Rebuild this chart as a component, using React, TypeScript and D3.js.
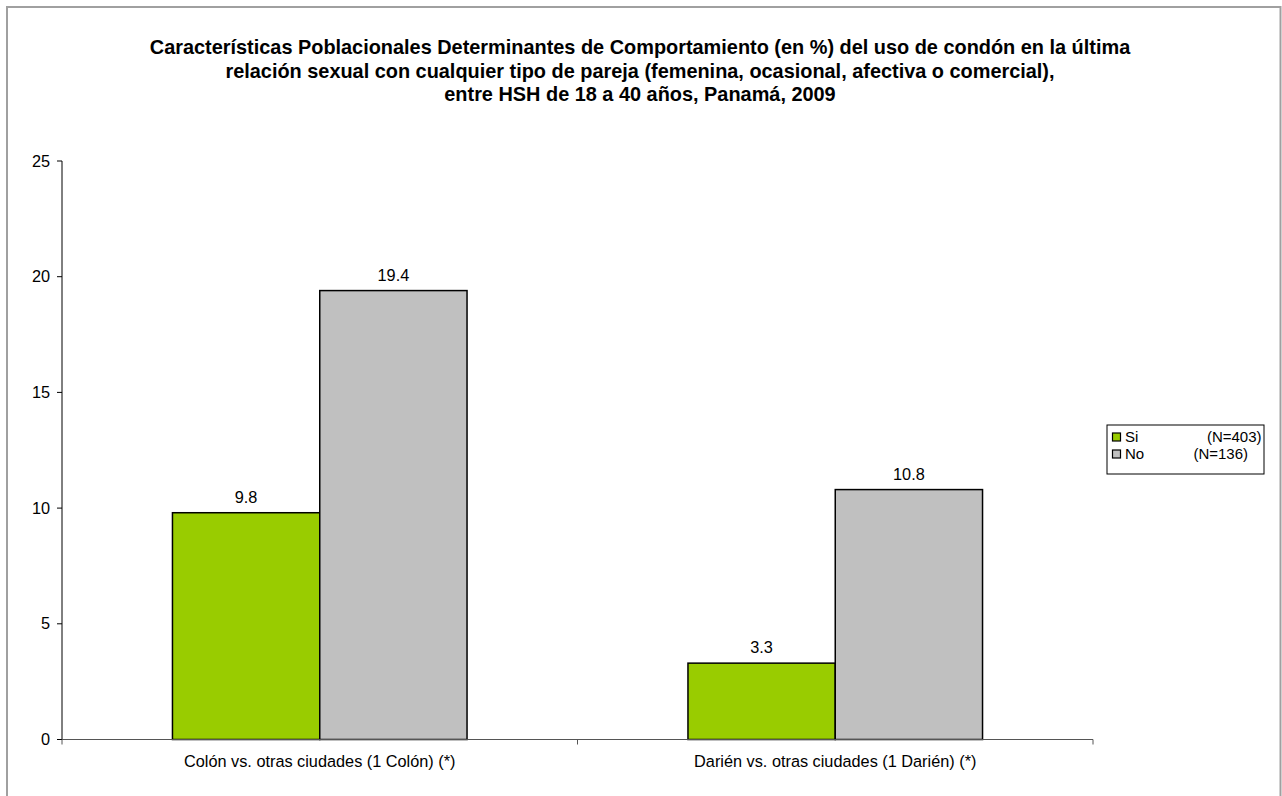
import React from "react";
import * as d3 from "d3";

const categories = ["Colón vs. otras ciudades (1 Colón) (*)", "Darién vs. otras ciudades (1 Darién) (*)"];
const seriesNames = ["Si", "No"];
const seriesN = ["(N=403)", "(N=136)"];
const siValues = [9.8, 3.3];
const noValues = [19.4, 10.8];
const yTicks = [0, 5, 10, 15, 20, 25];
const titleLines = [
  "Características Poblacionales Determinantes de Comportamiento (en %) del uso de condón en la última",
  "relación sexual con cualquier tipo de pareja (femenina, ocasional, afectiva o comercial),",
  "entre HSH de 18 a 40 años, Panamá, 2009",
];

const colors = ["#99cc00", "#c0c0c0"];
const FONT = "'Liberation Sans', Arial, sans-serif";

export default function App() {
  const W = 1282, H = 796;
  const left = 62, right = 1093, top = 161, bottom = 739.5;
  const x0 = d3.scaleBand<string>().domain(categories).range([left, right]).paddingInner(0).paddingOuter(0);
  const y = d3.scaleLinear().domain([0, 25]).range([bottom, top]);
  const barW = x0.bandwidth() / 3.5;
  const series = [siValues, noValues];
  const legendNEnd = [1261.5, 1248];
  const FS = 16.3;
  const LFS = 15;
  const rowGap = 17;

  return (
    <svg width={W} height={H} style={{ position: "absolute", left: 0, top: 0, background: "#fff" }} fontFamily={FONT}>
      <rect x={7} y={7} width={1273.5} height={H + 20} fill="#fff" stroke="#a0a0a0" strokeWidth={2} />
      {titleLines.map((t, i) => (
        <text key={i} x={640} y={54 + i * 23.5} textAnchor="middle" fontSize={19.9} fontWeight="bold" fill="#000">{t}</text>
      ))}
      {/* y axis */}
      <line x1={left} x2={left} y1={top} y2={bottom} stroke="#000" strokeWidth={1} />
      {yTicks.map((t) => (
        <g key={t}>
          <line x1={left - 5} x2={left} y1={y(t)} y2={y(t)} stroke="#000" />
          <text x={50} y={y(t) + 5.5} textAnchor="end" fontSize={FS} fill="#000">{t}</text>
        </g>
      ))}
      {/* bars */}
      {categories.map((c, ci) => {
        const cx = (x0(c) as number) + x0.bandwidth() / 2;
        return (
          <g key={c}>
            {series.map((vals, si) => {
              const bx = cx - barW + si * barW;
              return (
                <g key={si}>
                  <rect x={bx} y={y(vals[ci])} width={barW} height={bottom - y(vals[ci])} fill={colors[si]} stroke="#000" strokeWidth={1.5} />
                  <text x={bx + barW / 2} y={y(vals[ci]) - 10} textAnchor="middle" fontSize={FS} fill="#000">{vals[ci].toFixed(1)}</text>
                </g>
              );
            })}
            <text x={cx} y={767} textAnchor="middle" fontSize={FS} fill="#000">{c}</text>
          </g>
        );
      })}
      {/* x axis */}
      <line x1={left} x2={right} y1={bottom} y2={bottom} stroke="#555" strokeWidth={1.2} />
      {[left, (left + right) / 2, right].map((tx, i) => (
        <line key={i} x1={tx} x2={tx} y1={bottom} y2={bottom + 5} stroke="#555" />
      ))}
      {/* legend */}
      <rect x={1107} y={425} width={157} height={49} fill="#fff" stroke="#000" strokeWidth={1} />
      {seriesNames.map((s, i) => {
        const cy = 445.5 + (i - 0.5) * rowGap;
        return (
          <g key={s}>
            <rect x={1112.5} y={cy - 4} width={8} height={8} fill={colors[i]} stroke="#000" strokeWidth={1.2} />
            <text x={1125} y={cy + 5} fontSize={LFS} fill="#000">{s}</text>
            <text x={legendNEnd[i]} y={cy + 5} textAnchor="end" fontSize={LFS} fill="#000">{seriesN[i]}</text>
          </g>
        );
      })}
    </svg>
  );
}
